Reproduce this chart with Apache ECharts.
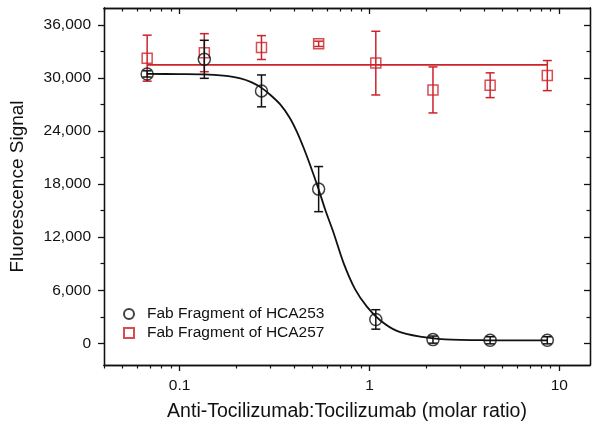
<!DOCTYPE html>
<html>
<head>
<meta charset="utf-8">
<script src="https://cdn.jsdelivr.net/npm/echarts@6/dist/echarts.min.js"></script>
<style>
  html, body { margin: 0; padding: 0; background: #fff; }
  #chart { width: 600px; height: 428px; }
</style>
</head>
<body>
<div id="chart"></div>
<script>
// molar ratio (x) of each measured point
const ratio = [0.0675, 0.135, 0.27, 0.54, 1.08, 2.16, 4.32, 8.64];

// Fab Fragment of HCA253
const hca253Mean = [30450, 32100, 28530, 17430, 2700, 420, 340, 340];
const hca253Err = [350, 2150, 1800, 2550, 1100, 400, 400, 400];
// fitted curve
const fit253X = [0.0675, 0.1, 0.134, 0.17, 0.209, 0.24, 0.269, 0.3, 0.339, 0.38, 0.415, 0.45, 0.488, 0.539, 0.585, 0.647, 0.73, 0.841, 0.969, 1.138, 1.394, 1.848, 2.5, 4, 8.64];
const fit253Y = [30450, 30430, 30400, 30250, 29950, 29500, 28900, 28100, 27000, 25500, 23900, 22100, 20100, 17450, 15100, 12500, 9100, 6100, 4150, 2600, 1400, 750, 450, 350, 330];

// Fab Fragment of HCA257
const hca257Mean = [32230, 32850, 33430, 33850, 31670, 28640, 29170, 30260];
const hca257Err = [2600, 2150, 1350, 300, 3600, 2600, 1400, 1700];
const fit257X = [0.0675, 8.64];
const fit257Y = [31470, 31470];

// ticks
const xMajor = [0.1, 1, 10];
const xMinor = [0.04, 0.05, 0.06, 0.07, 0.08, 0.09, 0.2, 0.3, 0.4, 0.5, 0.6, 0.7, 0.8, 0.9, 2, 3, 4, 5, 6, 7, 8, 9];
const yMajor = [0, 6000, 12000, 18000, 24000, 30000, 36000];
const yMinor = [3000, 9000, 15000, 21000, 27000, 33000];

const BLACK = '#111';
const RED = '#cc2229';
const FONT = 'Liberation Sans, Arial, sans-serif';

const chart = echarts.init(document.getElementById('chart'));

function errRender(color) {
    return function (params, api) {
        const x = api.value(0);
        const top = api.coord([x, api.value(2)]);
        const bot = api.coord([x, api.value(1)]);
        const w = 4.5;
        const st = { stroke: color, lineWidth: 1.5 };
        return {
            type: 'group',
            children: [
                { type: 'line', shape: { x1: top[0], y1: top[1], x2: bot[0], y2: bot[1] }, style: st },
                { type: 'line', shape: { x1: top[0] - w, y1: top[1], x2: top[0] + w, y2: top[1] }, style: st },
                { type: 'line', shape: { x1: bot[0] - w, y1: bot[1], x2: bot[0] + w, y2: bot[1] }, style: st }
            ]
        };
    };
}

function errData(mean, err) {
    return ratio.map((x, i) => [x, mean[i] - err[i], mean[i] + err[i]]);
}

const xBase = {
    type: 'log',
    logBase: 10,
    min: 0.04,
    max: 14.5,
    splitLine: { show: false },
    axisLine: { show: true, onZero: false, lineStyle: { color: BLACK, width: 1.3 } }
};
const yBase = {
    type: 'value',
    min: -2450,
    max: 37900,
    splitLine: { show: false },
    axisLine: { show: true, onZero: false, lineStyle: { color: BLACK, width: 1.3 } }
};

let option = {
    animation: false,
    backgroundColor: '#fff',
    grid: { left: 104, right: 10, top: 8, bottom: 63 },
    legend: {
        data: ['Fab Fragment of HCA253', 'Fab Fragment of HCA257'],
        orient: 'vertical',
        left: 118,
        top: 301,
        itemWidth: 10,
        itemHeight: 10,
        itemGap: 3,
        textStyle: { fontFamily: FONT, fontSize: 15.5, color: '#111', lineHeight: 16, padding: [0, 0, 0, 8] }
    },
    xAxis: [
        Object.assign({}, xBase, {
            position: 'bottom',
            name: 'Anti-Tocilizumab:Tocilizumab (molar ratio)',
            nameLocation: 'middle',
            nameGap: 37,
            nameTextStyle: { fontFamily: FONT, fontSize: 19.5, color: '#111' },
            axisTick: { show: true, inside: false, length: 6, customValues: xMajor, lineStyle: { color: BLACK, width: 1.3 } },
            axisLabel: { show: true, customValues: xMajor, margin: 13, fontFamily: FONT, fontSize: 15.5, color: '#111' }
        }),
        Object.assign({}, xBase, {
            position: 'bottom',
            axisTick: { show: true, inside: false, length: 3.5, customValues: xMinor, lineStyle: { color: BLACK, width: 1.2 } },
            axisLabel: { show: false }
        }),
        Object.assign({}, xBase, {
            position: 'top',
            axisTick: { show: true, inside: true, length: 6, customValues: xMajor, lineStyle: { color: BLACK, width: 1.3 } },
            axisLabel: { show: false }
        }),
        Object.assign({}, xBase, {
            position: 'top',
            axisTick: { show: true, inside: true, length: 3.5, customValues: xMinor, lineStyle: { color: BLACK, width: 1.2 } },
            axisLabel: { show: false }
        })
    ],
    yAxis: [
        Object.assign({}, yBase, {
            position: 'left',
            name: 'Fluorescence Signal',
            nameLocation: 'middle',
            nameGap: 77,
            nameTextStyle: { fontFamily: FONT, fontSize: 19, color: '#111' },
            axisTick: { show: true, inside: false, length: 6, customValues: yMajor, lineStyle: { color: BLACK, width: 1.3 } },
            axisLabel: {
                show: true, customValues: yMajor, margin: 13, fontFamily: FONT, fontSize: 15.5, color: '#111',
                formatter: v => Number(v).toLocaleString('en-US')
            }
        }),
        Object.assign({}, yBase, {
            position: 'left',
            axisTick: { show: true, inside: false, length: 3.5, customValues: yMinor, lineStyle: { color: BLACK, width: 1.2 } },
            axisLabel: { show: false }
        }),
        Object.assign({}, yBase, {
            position: 'right',
            axisTick: { show: true, inside: true, length: 6, customValues: yMajor, lineStyle: { color: BLACK, width: 1.3 } },
            axisLabel: { show: false }
        }),
        Object.assign({}, yBase, {
            position: 'right',
            axisTick: { show: true, inside: true, length: 3.5, customValues: yMinor, lineStyle: { color: BLACK, width: 1.2 } },
            axisLabel: { show: false }
        })
    ],
    series: [
        {
            name: 'err257',
            type: 'custom',
            renderItem: errRender(RED),
            encode: { x: 0, y: [1, 2] },
            data: errData(hca257Mean, hca257Err),
            z: 2
        },
        {
            name: 'fit257',
            type: 'line',
            data: fit257X.map((x, i) => [x, fit257Y[i]]),
            showSymbol: false,
            lineStyle: { color: RED, width: 1.8 },
            z: 2
        },
        {
            name: 'Fab Fragment of HCA257',
            type: 'scatter',
            data: ratio.map((x, i) => [x, hca257Mean[i]]),
            symbol: 'rect',
            symbolSize: 10,
            symbolKeepAspect: true,
            itemStyle: { color: 'rgba(255,255,255,0)', borderColor: RED, borderWidth: 1.5 },
            z: 3
        },
        {
            name: 'err253',
            type: 'custom',
            renderItem: errRender(BLACK),
            encode: { x: 0, y: [1, 2] },
            data: errData(hca253Mean, hca253Err),
            z: 4
        },
        {
            name: 'fit253',
            type: 'line',
            data: fit253X.map((x, i) => [x, fit253Y[i]]),
            showSymbol: false,
            smooth: 0.3,
            lineStyle: { color: BLACK, width: 1.8 },
            z: 4
        },
        {
            name: 'Fab Fragment of HCA253',
            type: 'scatter',
            data: ratio.map((x, i) => [x, hca253Mean[i]]),
            symbol: 'circle',
            symbolSize: 12,
            symbolKeepAspect: true,
            itemStyle: { color: 'rgba(255,255,255,0)', borderColor: BLACK, borderWidth: 1.5 },
            z: 5
        }
    ]
};

chart.setOption(option);
</script>
</body>
</html>
